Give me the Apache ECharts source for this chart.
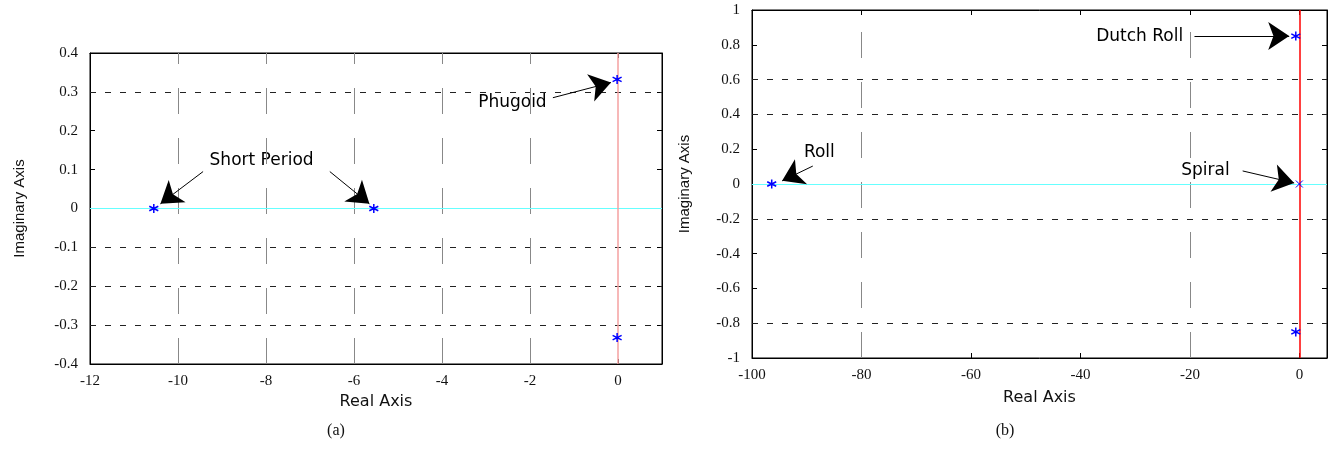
<!DOCTYPE html>
<html>
<head>
<meta charset="utf-8">
<script src="https://cdn.jsdelivr.net/npm/echarts@6/dist/echarts.min.js"></script>
<style>
  html, body { margin: 0; padding: 0; background: #fff; }
  #main { width: 1333px; height: 453px; }
</style>
</head>
<body>
<div id="main"></div>
<script>
// (a) longitudinal poles
var leftReal = [-10.55, -5.55, -0.02, -0.02];
var leftImag = [0, 0, 0.332, -0.332];
// (b) lateral poles
var rightReal = [-96.4, -0.7, -0.7];
var rightImag = [0, 0.85, -0.85];
var spiralPole = [-0.05, 0];

// annotations: text, x, y
var leftNotes = [['Short Period', -8.1, 0.123], ['Phugoid', -2.4, 0.273]];
var rightNotes = [['Dutch Roll', -29.2, 0.85], ['Roll', -87.7, 0.178], ['Spiral', -17.2, 0.075]];
// arrows: x1, y1, x2, y2
var leftArrows = [[-9.43, 0.095, -10.4, 0.012], [-6.55, 0.095, -5.65, 0.012], [-1.48, 0.285, -0.16, 0.324]];
var rightArrows = [[-19.2, 0.85, -1.9, 0.85], [-88.9, 0.103, -94.5, 0.018], [-10.4, 0.075, -1.0, 0.006]];

// grid lines that show up in the picture
var leftGridY = [0.3, -0.1, -0.2, -0.3];
var leftGridX = [-10, -8, -6, -4, -2];
var rightGridY = [0.6, 0.4, -0.2, -0.8];
var rightGridX = [-80, -20];

var star = 'path://M0,-5L0,5M-4.3,-2.5L4.3,2.5M-4.3,2.5L4.3,-2.5';
var cross = 'path://M-4,-4L4,4M-4,4L4,-4';

var tickFont = { fontFamily: 'Liberation Serif', fontSize: 15, color: '#111' };
var nameFont = { fontFamily: 'DejaVu Sans', fontSize: 16, color: '#111' };

function pts(xs, ys) {
    var out = [];
    for (var i = 0; i < xs.length; i++) out.push([xs[i], ys[i]]);
    return out;
}

function gridLines(xs, ys) {
    var d = [];
    for (var i = 0; i < ys.length; i++) {
        d.push({ yAxis: ys[i], lineStyle: { color: '#222', type: [6, 9], width: 1 } });
    }
    for (var j = 0; j < xs.length; j++) {
        d.push({ xAxis: xs[j], lineStyle: { color: '#888', type: [26, 24], width: 1 } });
    }
    return d;
}

function arrowLines(arr) {
    var d = [];
    for (var i = 0; i < arr.length; i++) {
        d.push([{ coord: [arr[i][0], arr[i][1]] }, { coord: [arr[i][2], arr[i][3]] }]);
    }
    return d;
}

function noteData(notes) {
    return notes.map(function (n) { return { name: n[0], value: [n[1], n[2]] }; });
}

function mainX(idx, min, max, interval, gap) {
    return {
        gridIndex: idx, type: 'value', min: min, max: max, interval: interval,
        name: 'Real Axis', nameLocation: 'middle', nameGap: gap, nameTextStyle: nameFont,
        axisLine: { show: true, onZero: false, lineStyle: { color: '#000' } },
        axisTick: { inside: true, length: 5, lineStyle: { color: '#000' } },
        axisLabel: Object.assign({ margin: 10, showMaxLabel: false }, tickFont),
        splitLine: { show: false }
    };
}
function mainY(idx, min, max, interval, gap) {
    return {
        gridIndex: idx, type: 'value', min: min, max: max, interval: interval,
        name: 'Imaginary Axis', nameLocation: 'middle', nameGap: gap,
        nameTextStyle: { fontFamily: 'Liberation Sans', fontSize: 15, color: '#111' },
        axisLine: { show: true, onZero: false, lineStyle: { color: '#000' } },
        axisTick: { inside: true, length: 5, lineStyle: { color: '#000' } },
        axisLabel: Object.assign({ margin: 12 }, tickFont),
        splitLine: { show: false }
    };
}
function sideAxis(kind, idx, min, max, interval) {
    return {
        gridIndex: idx, type: 'value', min: min, max: max, interval: interval,
        position: kind === 'x' ? 'top' : 'right',
        axisLine: { show: true, onZero: false, lineStyle: { color: '#000' } },
        axisTick: { inside: true, length: 5, lineStyle: { color: '#000' } },
        axisLabel: { show: false }, splitLine: { show: false }
    };
}

var myChart = echarts.init(document.getElementById('main'));

var noteLabel = { show: true, position: 'inside', formatter: '{b}',
                  fontFamily: 'DejaVu Sans', fontSize: 17, color: '#000' };

var option = {
    animation: false,
    backgroundColor: '#fff',
    title: [
        { text: '(a)', left: 331, top: 418, textAlign: 'center',
          textStyle: { fontFamily: 'Liberation Serif', fontSize: 16, fontWeight: 'normal', color: '#111' } },
        { text: '(b)', left: 1000, top: 418, textAlign: 'center',
          textStyle: { fontFamily: 'Liberation Serif', fontSize: 16, fontWeight: 'normal', color: '#111' } }
    ],
    grid: [
        { left: 90, top: 53, width: 572, height: 311, show: true, borderColor: '#000' },
        { left: 752, top: 10, width: 575, height: 348, show: true, borderColor: '#000' }
    ],
    xAxis: [
        mainX(0, -12, 1, 2, 26),
        mainX(1, -100, 5, 20, 32),
        sideAxis('x', 0, -12, 1, 2),
        sideAxis('x', 1, -100, 5, 20)
    ],
    yAxis: [
        mainY(0, -0.4, 0.4, 0.1, 63),
        mainY(1, -1, 1, 0.2, 60),
        sideAxis('y', 0, -0.4, 0.4, 0.1),
        sideAxis('y', 1, -1, 1, 0.2)
    ],
    series: [
        {
            // grid + reference lines (a)
            type: 'scatter', xAxisIndex: 0, yAxisIndex: 0, data: [], silent: true,
            markLine: {
                silent: true, symbol: 'none', label: { show: false }, animation: false,
                data: gridLines(leftGridX, leftGridY).concat([
                    { yAxis: 0, lineStyle: { color: '#66ffff', type: 'solid', width: 1.2 } },
                    { xAxis: 0, lineStyle: { color: '#f5a0a0', type: 'solid', width: 1.5 } }
                ])
            }
        },
        {
            type: 'scatter', xAxisIndex: 1, yAxisIndex: 1, data: [], silent: true,
            markLine: {
                silent: true, symbol: 'none', label: { show: false }, animation: false,
                data: gridLines(rightGridX, rightGridY).concat([
                    { yAxis: 0, lineStyle: { color: '#66ffff', type: 'solid', width: 1.2 } },
                    { xAxis: 0, lineStyle: { color: '#ff0000', type: 'solid', width: 1.5 } }
                ])
            }
        },
        {
            // annotations (a)
            type: 'scatter', xAxisIndex: 0, yAxisIndex: 0, symbolSize: 0, silent: true,
            itemStyle: { opacity: 1 },
            data: noteData(leftNotes),
            label: noteLabel,
            markLine: {
                silent: true, symbol: ['none', 'arrow'], symbolSize: 21, label: { show: false },
                lineStyle: { color: '#000', type: 'solid', width: 1, opacity: 1 },
                data: arrowLines(leftArrows)
            }
        },
        {
            type: 'scatter', xAxisIndex: 1, yAxisIndex: 1, symbolSize: 0, silent: true,
            itemStyle: { opacity: 1 },
            data: noteData(rightNotes),
            label: noteLabel,
            markLine: {
                silent: true, symbol: ['none', 'arrow'], symbolSize: 21, label: { show: false },
                lineStyle: { color: '#000', type: 'solid', width: 1, opacity: 1 },
                data: arrowLines(rightArrows)
            }
        },
        {
            // poles
            type: 'scatter', xAxisIndex: 0, yAxisIndex: 0, symbol: star, symbolSize: 9,
            itemStyle: { color: 'rgba(0,0,0,0)', borderColor: '#0000ff', borderWidth: 1.5, opacity: 1 },
            data: pts(leftReal, leftImag), z: 5
        },
        {
            type: 'scatter', xAxisIndex: 1, yAxisIndex: 1, symbol: star, symbolSize: 9,
            itemStyle: { color: 'rgba(0,0,0,0)', borderColor: '#0000ff', borderWidth: 1.5, opacity: 1 },
            data: pts(rightReal, rightImag), z: 5
        },
        {
            type: 'scatter', xAxisIndex: 1, yAxisIndex: 1, symbol: cross, symbolSize: 7,
            itemStyle: { color: 'rgba(0,0,0,0)', borderColor: '#0000ff', borderWidth: 1, opacity: 1 },
            data: [spiralPole], z: 5
        }
    ]
};

myChart.setOption(option);
</script>
</body>
</html>
